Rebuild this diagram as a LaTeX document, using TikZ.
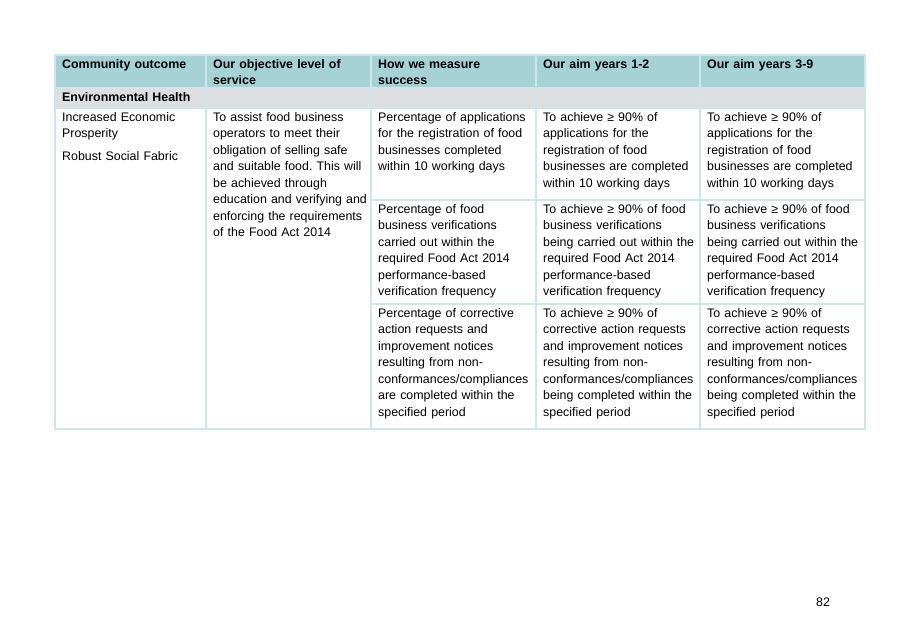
\documentclass[tikz,border=0pt]{standalone}
\usepackage{fontspec}
\setmainfont{Liberation Sans}
\usepackage{xcolor}
\definecolor{headfill}{RGB}{166,210,214}
\definecolor{groupfill}{RGB}{221,222,224}
\definecolor{gridline}{RGB}{206,230,234}
\usetikzlibrary{calc}
\tikzset{
  cell/.style={anchor=north west,inner sep=0pt,align=left,
    text width=#1,font=\fontsize{12.4}{16.5}\selectfont,
    execute at begin node=\strut},
  headcell/.style={cell=#1,font=\fontsize{12.4}{16.5}\selectfont\bfseries},
  rule/.style={draw=gridline,line width=1.2pt}
}

\begin{document}
\frenchspacing
\begin{tikzpicture}[x=1pt,y=-1pt]
\useasboundingbox
  (0,0) rectangle (907,626);
\fill [headfill] (55,55) rectangle (865,88);
\fill [groupfill] (55,88) rectangle (865,108);

\draw [rule] (55,55) rectangle (865,429);
\draw [rule] (55,88) -- (865,88);
\draw [rule] (55,108) -- (865,108);
\draw [rule] (371,200) -- (865,200);
\draw [rule] (371,304) -- (865,304);
\draw [rule] (206,55) -- (206,429);
\draw [rule] (371,55) -- (371,429);
\draw [rule] (536,55) -- (536,429);
\draw [rule] (700,55) -- (700,429);

\node [headcell=140] (hOutcome) at (62,56.5)
  {Community outcome};
\node [headcell=160] (hObjective) at (213,56.5)
  {Our objective level of\\service};
\node [headcell=160] (hMeasure) at (378,56.5)
  {How we measure\\success};
\node [headcell=160] (hAimA) at (543,56.5)
  {Our aim years 1-2};
\node [headcell=160] (hAimB) at (707,56.5)
  {Our aim years 3-9};
\node [headcell=300] (envHealth) at (62,89.5)
  {Environmental Health};

\node [cell=140] (outcome) at (62,109.5)
  {Increased Economic\\Prosperity\\[6.5pt]Robust Social Fabric};
\node [cell=160] (objective) at (213,109.5)
  {To assist food business\\operators to meet their\\obligation of selling safe\\and suitable food. This will\\be achieved through\\education and verifying and\\enforcing the requirements\\of the Food Act 2014};

\node [cell=160] (measureA) at (378,109.5)
  {Percentage of applications\\for the registration of food\\businesses completed\\within 10 working days};
\node [cell=160] (measureB) at (378,201.5)
  {Percentage of food\\business verifications\\carried out within the\\required Food Act 2014\\performance-based\\verification frequency};
\node [cell=160] (measureC) at (378,305.5)
  {Percentage of corrective\\action requests and\\improvement notices\\resulting from non-\\conformances/compliances\\are completed within the\\specified period};

\node [cell=160] (aimA1) at (543,109.5)
  {To achieve ≥ 90\% of\\applications for the\\registration of food\\businesses are completed\\within 10 working days};
\node [cell=160] (aimA2) at (543,201.5)
  {To achieve ≥ 90\% of food\\business verifications\\being carried out within the\\required Food Act 2014\\performance-based\\verification frequency};
\node [cell=160] (aimA3) at (543,305.5)
  {To achieve ≥ 90\% of\\corrective action requests\\and improvement notices\\resulting from non-\\conformances/compliances\\being completed within the\\specified period};

\node [cell=160] (aimB1) at (707,109.5)
  {To achieve ≥ 90\% of\\applications for the\\registration of food\\businesses are completed\\within 10 working days};
\node [cell=160] (aimB2) at (707,201.5)
  {To achieve ≥ 90\% of food\\business verifications\\being carried out within the\\required Food Act 2014\\performance-based\\verification frequency};
\node [cell=160] (aimB3) at (707,305.5)
  {To achieve ≥ 90\% of\\corrective action requests\\and improvement notices\\resulting from non-\\conformances/compliances\\being completed within the\\specified period};

\node [font=\fontsize{12.4}{16.5}\selectfont] (pageNo) at (823,602)
  {82};
\end{tikzpicture}
\end{document}
